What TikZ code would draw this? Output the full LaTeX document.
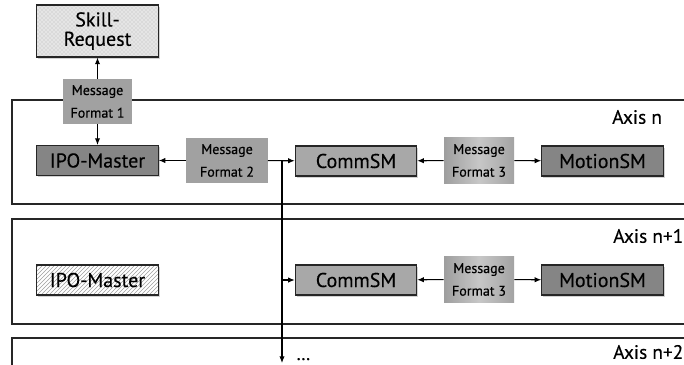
\documentclass[tikz,border=0pt]{standalone}
\usepackage{fontspec}
\setmainfont{PT Sans}[FakeBold=0.35]
\usetikzlibrary{arrows.meta}
\usetikzlibrary{shadows}
\usetikzlibrary{patterns}

\begin{document}
\begin{tikzpicture}[x=0.75pt,y=-0.75pt,
    >={Latex[length=5pt,width=4pt]},
    frame/.style={draw=black!85,line width=0.9pt},
    link/.style={->,line width=0.8pt,black},
    block/.style={draw=black!85,line width=0.8pt,inner sep=0pt,
        minimum width=91pt,minimum height=22.5pt,
        font=\fontsize{15}{14.5}\selectfont,
        drop shadow={shadow xshift=1.2pt,shadow yshift=-1.2pt,opacity=0.35}},
    master/.style={block,fill=black!48},
    comm/.style={block,fill=black!34},
    msg/.style={inner sep=0pt,minimum height=34pt,align=center,
        font=\fontsize{10.5}{17}\selectfont,fill=black!37},
    axislbl/.style={anchor=west,inner sep=0pt,font=\fontsize{14.5}{14}\selectfont}]

    \path[use as bounding box,clip] (0,0) rectangle (684,364);

    % the axis frames, open to the right
    \draw[frame] (700,100) -| (12,204) -- (700,204);
    \draw[frame] (700,219) -| (12,324) -- (700,324);
    \draw[frame] (700,338) -| (12,380);

    \node[axislbl] (axn)  at (612,117) {Axis n};
    \node[axislbl] (axn1) at (613,236) {Axis n+1};
    \node[axislbl] (axn2) at (613,352) {Axis n+2};

    % skill request on top
    \node[block,minimum height=39pt,align=center,
          preaction={fill=gray!20},pattern=crosshatch dots,pattern color=gray!55]
        (skill) at (97.5,31) {Skill-\\Request};

    % axis n
    \node[msg,minimum width=52pt] (mf1) at (97.5,101.5) {Message\\Format 1};
    \node[master] (ipo1) at (97.5,160.5) {IPO-Master};
    \node[msg,minimum width=61pt] (mf2) at (227,160.5) {Message\\Format 2};
    \node[comm] (comm1) at (356,161) {CommSM};
    \node[msg,minimum width=52.5pt,left color=black!38,right color=black!36,
          middle color=black!22] (mf3a) at (479,160.5) {Message\\Format 3};
    \node[master] (motion1) at (602.5,161) {MotionSM};

    % axis n+1
    \node[block,preaction={fill=white},pattern=north east lines,
          pattern color=gray!75] (ipo2) at (97.5,280) {IPO-Master};
    \node[comm] (comm2) at (356,280) {CommSM};
    \node[msg,minimum width=52.5pt,left color=black!38,right color=black!36,
          middle color=black!22] (mf3b) at (479,279.5) {Message\\Format 3};
    \node[master] (motion2) at (602.5,280) {MotionSM};

    % axis n+2
    \node[anchor=base west,inner sep=0pt,font=\fontsize{14}{14}\selectfont]
        (more) at (296,360) {\dots};

    \coordinate (split) at (282,161);
    \coordinate (bottom) at (282,363);

    \draw[link] (mf1) -- (skill);
    \draw[link] (mf1) -- (ipo1);
    \draw[link] (mf2) -- (ipo1);
    \draw[link] (mf2) -- (comm1);
    \draw[link] (mf3a) -- (comm1);
    \draw[link] (mf3a) -- (motion1);
    \draw[link] (mf3b) -- (comm2);
    \draw[link] (mf3b) -- (motion2);
    \draw[link] (split) -- (bottom);
    \draw[link] (split |- comm2) -- (comm2);
\end{tikzpicture}
\end{document}
